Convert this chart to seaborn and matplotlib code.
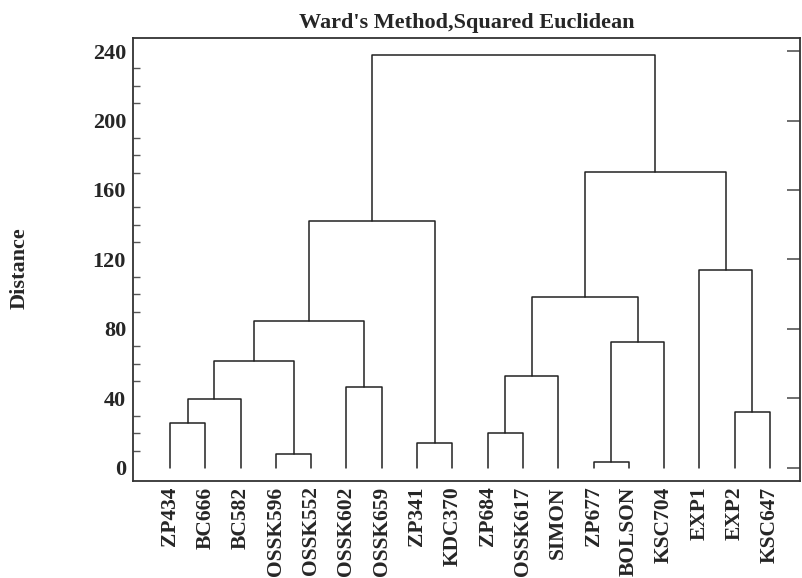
import pandas as pd
import seaborn as sns
import matplotlib.pyplot as plt
from matplotlib.ticker import MultipleLocator

# folhas na ordem do dendrograma
folhas = ["ZP434", "BC666", "BC582", "OSSK596", "OSSK552", "OSSK602", "OSSK659",
          "ZP341", "KDC370", "ZP684", "OSSK617", "SIMON", "ZP677", "BOLSON",
          "KSC704", "EXP1", "EXP2", "KSC647"]

# fusoes: (a, b) -> novo cluster 18, 19, ...
fusao_a = [12, 3, 7, 9, 0, 16, 22, 5, 21, 24, 18, 27, 26, 15, 29, 30, 32]
fusao_b = [13, 4, 8, 10, 1, 17, 2, 6, 11, 19, 14, 25, 28, 23, 20, 31, 33]
alturas = [3.6, 7.8, 14.1, 19.9, 26.1, 32.2, 39.7, 46.5, 53.0, 61.7, 72.6,
           84.7, 98.4, 114.0, 142.0, 170.5, 237.9]

yticks = [0, 40, 80, 120, 160, 200, 240]

#montando os segmentos
pos = {i: (float(i), 0.0) for i in range(len(folhas))}
linhas = []
for k, (a, b, h) in enumerate(zip(fusao_a, fusao_b, alturas)):
    xa, ya = pos[a]
    xb, yb = pos[b]
    for x, y in [(xa, ya), (xa, h), (xb, h), (xb, yb)]:
        linhas.append({"link": k, "x": x, "y": y})
    pos[len(folhas) + k] = ((xa + xb) / 2, h)
df = pd.DataFrame(linhas)

sns.set_theme(style="white")
plt.rcParams["font.family"] = ["Liberation Serif", "DejaVu Serif"]
plt.rcParams["font.weight"] = "bold"

fig = plt.figure(figsize=(8.02, 5.78), dpi=100)
ax = fig.add_axes([0.1658, 0.1678, 0.8317, 0.7665])

sns.lineplot(data=df, x="x", y="y", units="link", estimator=None, sort=False,
             color="#222222", linewidth=1.1, ax=ax)

ax.set_xlim(-1.05, 17.85)
ax.set_ylim(-7.5, 247.5)
ax.set_xticks(range(len(folhas)))
ax.set_xticklabels(folhas, rotation=90, fontsize=15.5, fontweight="bold")
ax.tick_params(axis="x", length=0, pad=4)
ax.set_yticks(yticks)
ax.yaxis.set_minor_locator(MultipleLocator(10))
ax.tick_params(axis="y", which="major", direction="in", length=9.5, width=1.2,
               color="#555555", labelsize=16, right=True, pad=5)
ax.tick_params(axis="y", which="minor", direction="in", length=5, width=1.0,
               color="#555555", left=True)
for lab in ax.get_yticklabels():
    lab.set_fontweight("bold")

for s in ax.spines.values():
    s.set_color("#333333")
    s.set_linewidth(1.3)

ax.set_xlabel("")
ax.set_ylabel("Distance", fontsize=16, fontweight="bold")
ax.yaxis.set_label_coords(-0.155, 0.48)
ax.set_title("Ward's Method,Squared Euclidean", fontsize=16, fontweight="bold", pad=7)

fig.savefig("out.png", dpi=100)
